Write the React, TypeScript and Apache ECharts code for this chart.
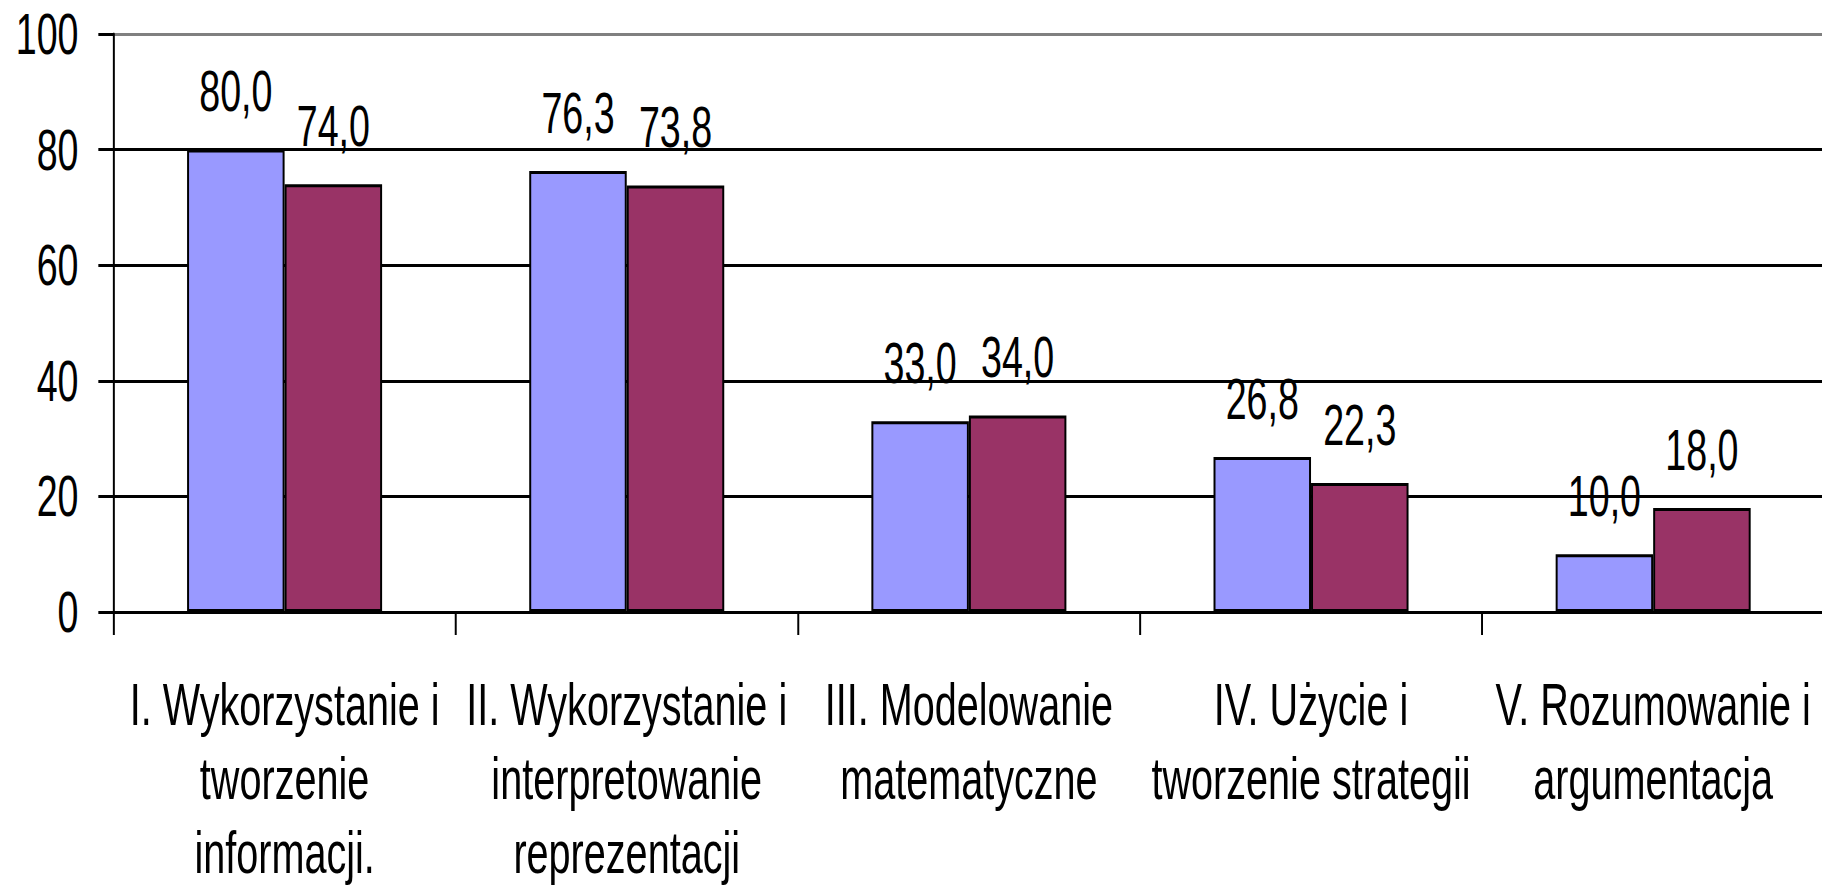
import React, { useEffect, useRef } from 'react';
import * as echarts from 'echarts';

// ---- data ----
const categories = [
  'I. Wykorzystanie i\ntworzenie\ninformacji.',
  'II. Wykorzystanie i\ninterpretowanie\nreprezentacji',
  'III. Modelowanie\nmatematyczne',
  'IV. Użycie i\ntworzenie strategii',
  'V. Rozumowanie i\nargumentacja',
];
const seriesBlue = [80.0, 76.3, 33.0, 26.8, 10.0];
const seriesMaroon = [74.0, 73.8, 34.0, 22.3, 18.0];
const yMin = 0;
const yMax = 100;
const yStep = 20;

// ---- layout / style ----
const FONT = "'Liberation Sans', Arial, Helvetica, sans-serif";
const SQUEEZE = 0.66; // the reference is horizontally compressed
const VIEW_W = 1822;
const VIEW_H = 890;
const CHART_W = Math.round(VIEW_W / SQUEEZE);

const fmt = (v: number) => v.toFixed(1).replace('.', ',');

export default function App() {
  const ref = useRef<HTMLDivElement>(null);

  useEffect(() => {
    if (!ref.current) return;
    const chart = echarts.init(ref.current, null, { renderer: 'svg' });
    const barLabel = {
      show: true,
      position: 'top',
      distance: 30,
      color: '#000',
      fontSize: 57,
      fontFamily: FONT,
      formatter: (p: any) => fmt(p.value),
    };
    chart.setOption({
      animation: false,
      backgroundColor: '#ffffff',
      textStyle: { fontFamily: FONT },
      grid: {
        left: 172,
        right: -3,
        top: 34,
        bottom: 278,
        containLabel: false,
        outerBoundsMode: 'none',
      },
      xAxis: {
        type: 'category',
        data: categories,
        axisLine: { show: true, lineStyle: { color: '#000', width: 3 } },
        axisTick: { show: true, length: 23, lineStyle: { color: '#000', width: 3 } },
        axisLabel: {
          interval: 0,
          color: '#000',
          fontSize: 60,
          lineHeight: 74,
          margin: 55,
          fontFamily: FONT,
        },
        splitLine: { show: false },
      },
      yAxis: {
        type: 'value',
        min: yMin,
        max: yMax,
        interval: yStep,
        axisLine: { show: true, lineStyle: { color: '#000', width: 3 } },
        axisTick: { show: true, length: 23, lineStyle: { color: '#000', width: 3 } },
        axisLabel: { color: '#000', fontSize: 57, margin: 53, fontFamily: FONT },
        splitLine: {
          show: true,
          lineStyle: {
            color: ['#000', '#000', '#000', '#000', '#000', '#808080'],
            width: 3,
          },
        },
      },
      series: [
        {
          type: 'bar',
          name: 'Seria 1',
          data: seriesBlue,
          barGap: '0%',
          barCategoryGap: '43%',
          itemStyle: { color: '#9999FF', borderColor: '#000', borderWidth: 3 },
          label: barLabel,
        },
        {
          type: 'bar',
          name: 'Seria 2',
          data: seriesMaroon,
          barGap: '0%',
          barCategoryGap: '43%',
          itemStyle: { color: '#993366', borderColor: '#000', borderWidth: 3 },
          label: barLabel,
        },
      ],
    });
    return () => chart.dispose();
  }, []);

  return (
    <div
      style={{
        position: 'fixed',
        left: 0,
        top: 0,
        width: VIEW_W,
        height: VIEW_H,
        overflow: 'hidden',
        background: '#fff',
      }}
    >
      <div
        ref={ref}
        style={{
          width: CHART_W,
          height: VIEW_H,
          transform: `scaleX(${SQUEEZE})`,
          transformOrigin: '0 0',
        }}
      />
    </div>
  );
}
